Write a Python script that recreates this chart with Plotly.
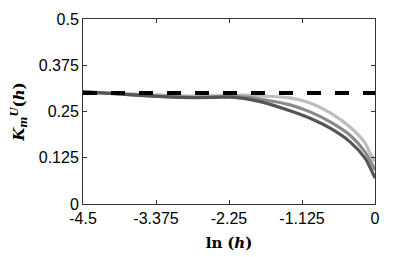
import plotly.graph_objects as go

x_vals = [-4.5, -4.0, -3.5, -3.0, -2.5, -2.25, -2.0, -1.75, -1.31, -1.0, -0.69, -0.385, -0.154, -0.077, 0.0]
light = [0.303, 0.300, 0.296, 0.292, 0.292, 0.294, 0.294, 0.292, 0.287, 0.273, 0.246, 0.208, 0.165, 0.138, 0.114]
medium = [0.303, 0.298, 0.293, 0.289, 0.289, 0.291, 0.289, 0.283, 0.268, 0.249, 0.222, 0.186, 0.141, 0.118, 0.092]
dark = [0.303, 0.298, 0.292, 0.288, 0.288, 0.289, 0.285, 0.276, 0.252, 0.232, 0.205, 0.168, 0.124, 0.099, 0.070]
ref_x = [-4.5, 0.0]
ref_y = [0.3, 0.3]

x_ticks = [-4.5, -3.375, -2.25, -1.125, 0]
x_ticklabels = ["-4.5", "-3.375", "-2.25", "-1.125", "0"]
y_ticks = [0, 0.125, 0.25, 0.375, 0.5]
y_ticklabels = ["0", "0.125", "0.25", "0.375", "0.5"]

fig = go.Figure()
for ys, col in [(light, "#bdbdbd"), (medium, "#8a8a8a"), (dark, "#555555")]:
    fig.add_trace(go.Scatter(x=x_vals, y=ys, mode="lines",
                             line=dict(color=col, width=3.2, shape="spline", smoothing=0.8),
                             showlegend=False, hoverinfo="skip"))
fig.add_trace(go.Scatter(x=ref_x, y=ref_y, mode="lines",
                         line=dict(color="black", width=4, dash="14px,14px"),
                         showlegend=False, hoverinfo="skip"))

axis_common = dict(showgrid=False, zeroline=False, showline=True, linecolor="#333333",
                   linewidth=1, mirror="ticks", ticks="inside", ticklen=4, tickcolor="#333333",
                   automargin=False,
                   tickfont=dict(family="Liberation Sans, Arial, sans-serif", size=16, color="black"))

fig.update_layout(
    width=407, height=249,
    margin=dict(l=75, r=40, t=11, b=53),
    paper_bgcolor="white", plot_bgcolor="white",
    xaxis=dict(range=[-4.5, 0], tickvals=x_ticks, ticktext=x_ticklabels,
               title=dict(text="<b>ln</b> <b>(<i>h</i>)</b>", standoff=11,
                          font=dict(family="DejaVu Serif, serif", size=15, color="black")),
               **axis_common),
    yaxis=dict(range=[0, 0.5], tickvals=y_ticks, ticktext=y_ticklabels,
               title=dict(text="<b><i>K</i></b><sub><b><i>m</i></b></sub><sup><b><i>U</i></b></sup><b>(<i>h</i>)</b>",
                          standoff=11,
                          font=dict(family="DejaVu Serif, serif", size=15, color="black")),
               **axis_common),
)

fig.write_html("out.html")
